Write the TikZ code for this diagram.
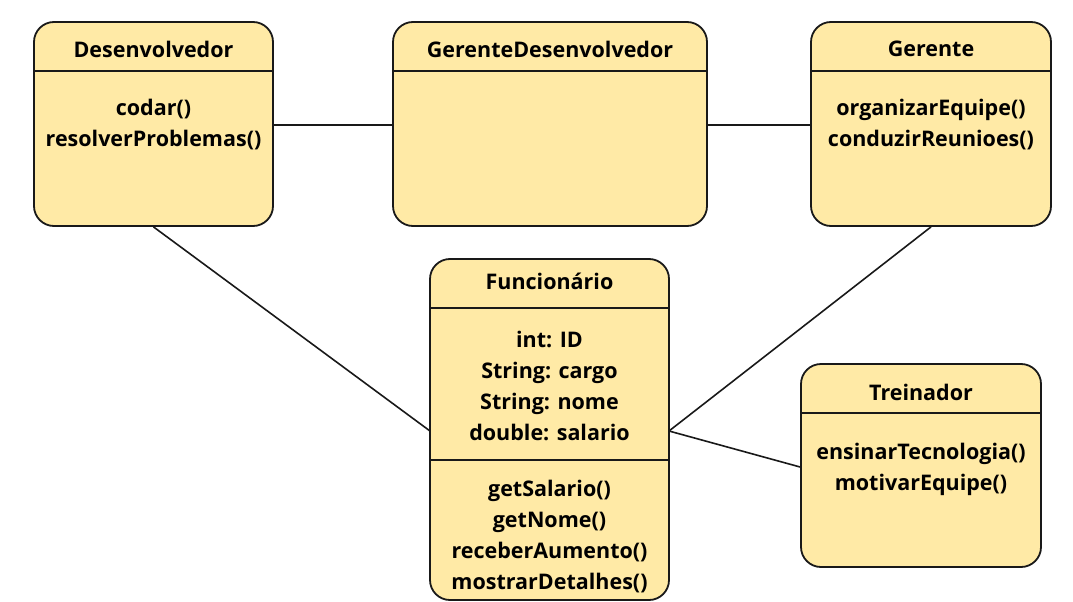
\documentclass[tikz,border=0pt]{standalone}
\usepackage{fontspec}
\setmainfont{Open Sans}
\begin{document}
\begin{tikzpicture}[x=1pt,y=-1pt,
  cls/.style={draw=black!90,fill=umlfill,line width=1.8pt,rounded corners=20pt,inner sep=0pt},
  sep/.style={draw=black!90,line width=1.6pt},
  lbl/.style={font=\bfseries\fontsize{21.5}{31}\selectfont,align=center,inner sep=0pt},
  conn/.style={draw=black!90,line width=1.6pt}]
\definecolor{umlfill}{HTML}{FFEAA6}
\useasboundingbox[fill=white] (0,0) rectangle (1073,602);
% boxes
\node[cls,minimum width=239pt,minimum height=204pt] (dev) at (153.5,124) {};
\node[cls,minimum width=314pt,minimum height=204pt] (gd) at (550,124) {};
\node[cls,minimum width=240pt,minimum height=204pt] (ger) at (931,124) {};
\node[cls,minimum width=239pt,minimum height=341pt] (fun) at (549.5,429.5) {};
\node[cls,minimum width=240pt,minimum height=203pt] (tre) at (921,465.5) {};
% separators
\draw[sep] (dev.west |- 0,71) -- (dev.east |- 0,71);
\draw[sep] (gd.west |- 0,71) -- (gd.east |- 0,71);
\draw[sep] (ger.west |- 0,71) -- (ger.east |- 0,71);
\draw[sep] (fun.west |- 0,308) -- (fun.east |- 0,308);
\draw[sep] (fun.west |- 0,460) -- (fun.east |- 0,460);
\draw[sep] (tre.west |- 0,413) -- (tre.east |- 0,413);
% texts
\node[lbl] (devT) at (153.5,49) {Desenvolvedor};
\node[lbl] (devM) at (153.5,125) {codar()\\resolverProblemas()};
\node[lbl] (gdT) at (550,49) {GerenteDesenvolvedor};
\node[lbl] (gerT) at (931,49) {Gerente};
\node[lbl] (gerM) at (931,125) {organizarEquipe()\\conduzirReunioes()};
\node[lbl] (funT) at (549.5,281) {Funcionário};
\node[lbl] (funA) at (549.5,386) {int: ID\\String: cargo\\String: nome\\double: salario};
\node[lbl] (funM) at (549.5,537) {getSalario()\\getNome()\\receberAumento()\\mostrarDetalhes()};
\node[lbl] (treT) at (921,392) {Treinador};
\node[lbl] (treM) at (921,469) {ensinarTecnologia()\\motivarEquipe()};
% connectors
\coordinate (funR) at (669,431);
\coordinate (funL) at (430,431);
\draw[conn] (dev.east |- 0,125) -- (gd.west |- 0,125);
\draw[conn] (gd.east |- 0,125) -- (ger.west |- 0,125);
\draw[conn] (dev.south) -- (funL);
\draw[conn] (ger.south) -- (funR);
\draw[conn] (funR) -- (tre.west |- 0,467);
\end{tikzpicture}
\end{document}
